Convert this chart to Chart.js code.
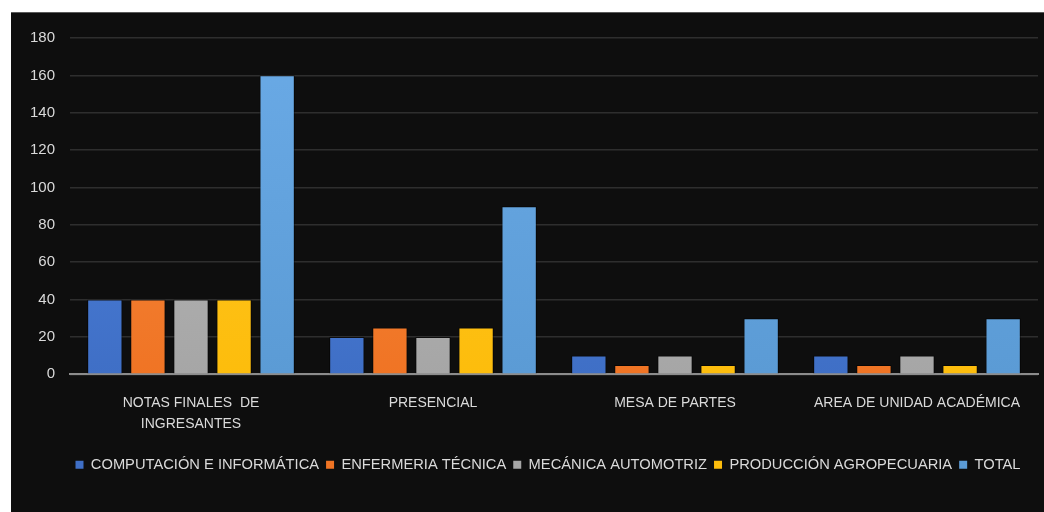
<!DOCTYPE html>
<html>
<head>
<meta charset="utf-8">
<script src="https://cdn.jsdelivr.net/npm/chart.js@4.4.0/dist/chart.umd.min.js"></script>
<style>
  html, body { margin: 0; padding: 0; background: #ffffff; }
  #wrap {
    position: absolute; left: 11px; top: 12px;
    width: 1033px; height: 500px;
    background: #0e0e0e;
    border-top: 1px solid #5a5a5a;
    box-sizing: border-box;
  }
</style>
</head>
<body>
<div id="wrap"><canvas id="my-chart"></canvas></div>
<script>
const categories = [
    ['NOTAS FINALES  DE', 'INGRESANTES'],
    'PRESENCIAL',
    'MESA DE PARTES',
    'AREA DE UNIDAD ACADÉMICA'
]
const seriesNames = [
    'COMPUTACIÓN E INFORMÁTICA',
    'ENFERMERIA TÉCNICA',
    'MECÁNICA AUTOMOTRIZ',
    'PRODUCCIÓN AGROPECUARIA',
    'TOTAL'
]
const computacion = [40, 20, 10, 10]
const enfermeria = [40, 25, 5, 5]
const mecanica = [40, 20, 10, 10]
const produccion = [40, 25, 5, 5]
const total = [160, 90, 30, 30]
const yTicks = [0, 20, 40, 60, 80, 100, 120, 140, 160, 180]

// top / bottom colour of each series bar
const topColor = ['#5286e0', '#f58d45', '#bcbcbc', '#ffc82a', '#6aaae6']
const baseColor = ['#3f6fc6', '#f07424', '#a6a6a6', '#fdbd0c', '#5b9bd5']

const fontFamily = "'Liberation Sans', Arial, sans-serif";
const textColor = '#dadada';

function barFill(i) {
    return (context) => {
        const area = context.chart.chartArea;
        if (!area) return baseColor[i];
        const g = context.chart.ctx.createLinearGradient(0, area.top, 0, area.bottom);
        g.addColorStop(0, topColor[i]);
        g.addColorStop(1, baseColor[i]);
        return g;
    };
}

// centre the legend under the plot area rather than the whole canvas
const legendUnderPlot = {
    id: 'legendUnderPlot',
    afterLayout(chart) {
        const lg = chart.legend;
        if (!lg) return;
        const shift = (chart.chartArea.left + chart.chartArea.right) / 2 - (lg.left + lg.right) / 2 - 6;
        lg.left += shift;
        lg.right += shift;
    }
};

const values = [computacion, enfermeria, mecanica, produccion, total];
const ctxBar = document.getElementById('my-chart').getContext('2d');
const myChartBar = new Chart(ctxBar, {
    type: 'bar',
    data: {
        labels: categories,
        datasets: seriesNames.map((name, i) => ({
            label: name,
            data: values[i],
            backgroundColor: barFill(i),
            borderColor: 'rgba(0,0,0,0.55)',
            borderWidth: 1,
            categoryPercentage: 0.89,
            barPercentage: 0.82
        }))
    },
    plugins: [legendUnderPlot],
    options: {
        responsive: true,
        maintainAspectRatio: false,
        animation: false,
        layout: { padding: { top: 25, right: 6, bottom: 30, left: 0 } },
        plugins: {
            legend: {
                position: 'bottom',
                labels: {
                    color: textColor,
                    font: { family: fontFamily, size: 14.7 },
                    boxWidth: 8,
                    boxHeight: 8,
                    padding: 7,
                    generateLabels: (chart) => seriesNames.map((name, i) => ({
                        text: name,
                        fillStyle: baseColor[i],
                        strokeStyle: baseColor[i],
                        lineWidth: 0,
                        fontColor: textColor,
                        datasetIndex: i
                    }))
                }
            },
            tooltip: { enabled: false }
        },
        scales: {
            x: {
                grid: { display: false, drawTicks: false },
                border: { display: true, color: '#8c8c8c', width: 2 },
                ticks: {
                    color: textColor,
                    padding: 18,
                    maxRotation: 0,
                    autoSkip: false,
                    font: { family: fontFamily, size: 14, lineHeight: 1.5 }
                },
                afterFit: (scale) => { scale.height = 76; }
            },
            y: {
                min: 0,
                max: 180,
                afterBuildTicks: (scale) => { scale.ticks = yTicks.map(v => ({ value: v })); },
                grid: { color: '#2e2e2e', lineWidth: 1.5, drawTicks: false },
                border: { display: false },
                ticks: {
                    color: textColor,
                    padding: 15,
                    font: { family: fontFamily, size: 15 }
                },
                afterFit: (scale) => { scale.width = 59; }
            }
        }
    }
});
</script>
</body>
</html>
